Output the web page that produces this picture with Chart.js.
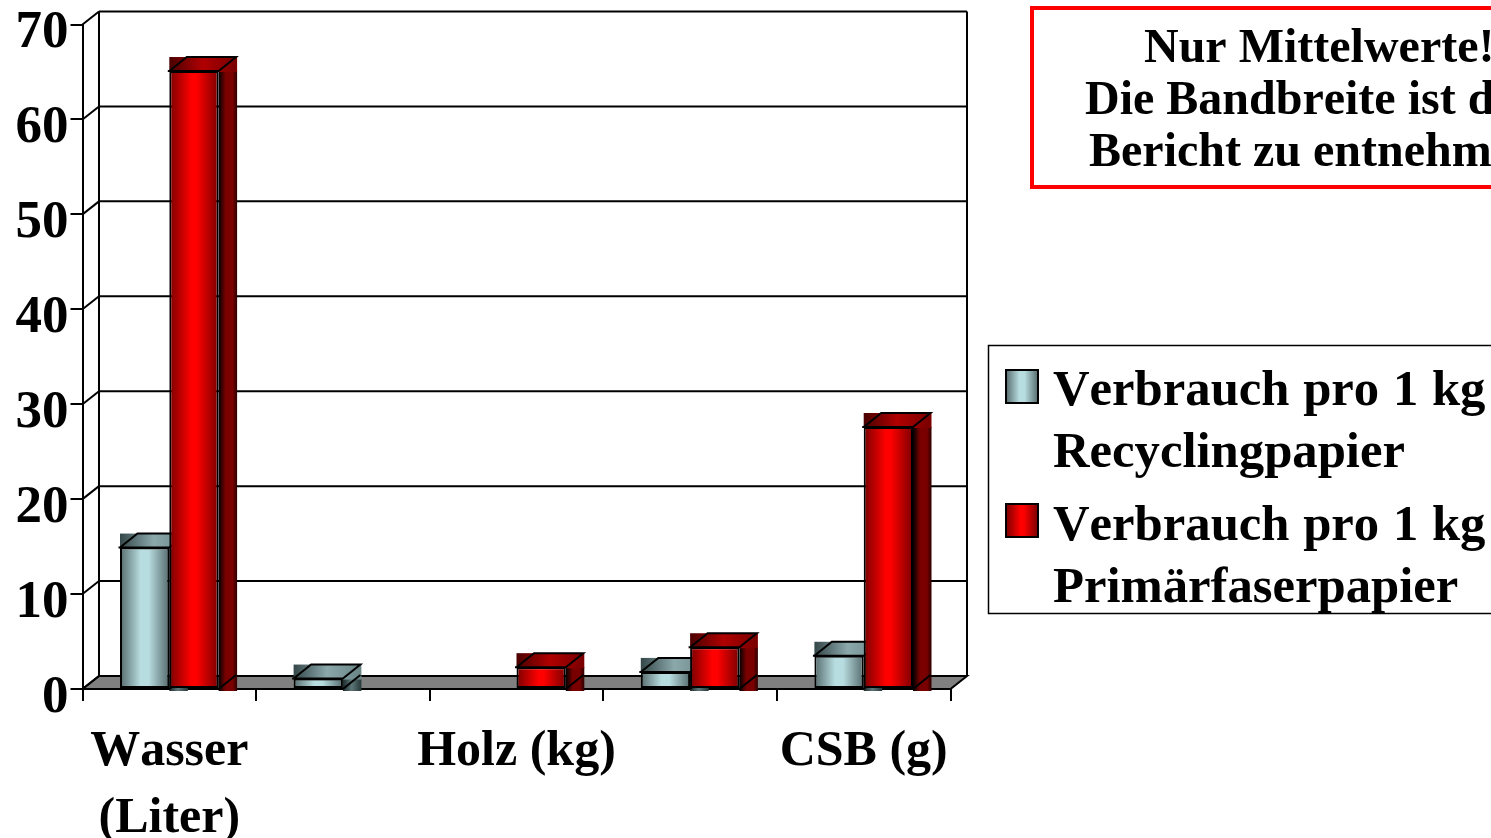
<!DOCTYPE html>
<html>
<head>
<meta charset="utf-8">
<title>Verbrauch pro 1 kg Papier</title>
<script src="https://cdn.jsdelivr.net/npm/chart.js@4/dist/chart.umd.min.js"></script>
<style>
html, body { margin: 0; padding: 0; background: #fff; overflow: hidden; }
canvas { display: block; }
</style>
</head>
<body>
<canvas id="chart" width="1491" height="838"></canvas>
<script>
// Values
var categories = [['Wasser', '(Liter)'], '', 'Holz (kg)', '', 'CSB (g)'];
var recycling = [14.9, 1.1, null, 1.8, 3.5];
var primaer = [65.1, null, 2.3, 4.4, 27.6];
var seriesNames = [
	['Verbrauch pro 1 kg', 'Recyclingpapier'],
	['Verbrauch pro 1 kg', 'Primärfaserpapier']
];
var noteLines = ['Nur Mittelwerte!', 'Die Bandbreite ist d', 'Bericht zu entnehm'];
var yTicks = [0, 10, 20, 30, 40, 50, 60, 70];

var serif = '"Liberation Serif", "Times New Roman", serif';
var WALL_DX = 16.5, WALL_DY = 13;
var BAR_DX = 17.5, BAR_DY = 14;
var BAR_FRACTION = 0.568;

// colours per series: front, side and top face stops
var looks = [
	{
		front: [[0, '#566b6d'], [0.42, '#b8dde0'], [0.58, '#b8dde0'], [1, '#566b6d']],
		side: [[0, '#1c2a2b'], [0.5, '#5d7678'], [1, '#2c3d3e']],
		top: [[0, '#344648'], [0.5, '#8ba8ab'], [1, '#6b8587']]
	},
	{
		front: [[0, '#7a0000'], [0.45, '#ff0000'], [0.55, '#ff0000'], [1, '#7a0000']],
		side: [[0, '#000000'], [0.4, '#7a0000'], [0.8, '#7a0000'], [1, '#3a0000']],
		top: [[0, '#4a0000'], [0.5, '#b00000'], [1, '#7a0000']]
	}
];

function hGradient(ctx, x0, x1, stops) {
	var g = ctx.createLinearGradient(x0, 0, x1, 0);
	stops.forEach(function(s) {
		g.addColorStop(s[0], s[1]);
	});
	return g;
}

function barWidth(chart) {
	return chart.scales.x.width / categories.length * BAR_FRACTION / 2;
}

function frontFill(context) {
	var chart = context.chart;
	if (!chart.chartArea) return '#888';
	var w = barWidth(chart);
	var mid = chart.scales.x.getPixelForValue(context.dataIndex);
	var left = context.datasetIndex === 0 ? mid - w : mid;
	return hGradient(chart.ctx, left, left + w, looks[context.datasetIndex].front);
}

function line(ctx, x0, y0, x1, y1) {
	ctx.beginPath();
	ctx.moveTo(x0, y0);
	ctx.lineTo(x1, y1);
	ctx.stroke();
}

// back wall, side wall and floor behind the bars
function drawRoom(chart) {
	var ctx = chart.ctx, xs = chart.scales.x, ys = chart.scales.y;
	var l = xs.left, r = xs.right, base = ys.getPixelForValue(0);
	ctx.save();
	ctx.strokeStyle = '#000';
	ctx.lineWidth = 2;
	ctx.fillStyle = '#808080';
	ctx.beginPath();
	ctx.moveTo(l, base);
	ctx.lineTo(l + WALL_DX, base - WALL_DY);
	ctx.lineTo(r + WALL_DX, base - WALL_DY);
	ctx.lineTo(r, base);
	ctx.closePath();
	ctx.fill();
	ctx.stroke();
	yTicks.forEach(function(v) {
		var y = ys.getPixelForValue(v);
		line(ctx, l, y, l + WALL_DX, y - WALL_DY);
		line(ctx, l + WALL_DX, y - WALL_DY, r + WALL_DX, y - WALL_DY);
	});
	var top = ys.getPixelForValue(70) - WALL_DY;
	line(ctx, l + WALL_DX, top, l + WALL_DX, base - WALL_DY);
	line(ctx, r + WALL_DX, top, r + WALL_DX, base - WALL_DY);
	ctx.restore();
}

// side and top faces of one series
function drawFaces(chart, index) {
	var ctx = chart.ctx, look = looks[index];
	var base = chart.scales.y.getPixelForValue(0);
	chart.getDatasetMeta(index).data.forEach(function(el, i) {
		if (chart.data.datasets[index].data[i] == null) return;
		var w = barWidth(chart);
		var left = el.x - w / 2, right = el.x + w / 2, top = el.y;
		ctx.save();
		ctx.fillStyle = hGradient(ctx, right, right + BAR_DX, look.side);
		ctx.fillRect(right, top, BAR_DX + 1, base + 2 - top);
		ctx.fillStyle = hGradient(ctx, left, right + BAR_DX, look.top);
		ctx.fillRect(left, top - BAR_DY, w + BAR_DX + 1, BAR_DY + 1);
		ctx.strokeStyle = '#000';
		ctx.lineWidth = 2;
		ctx.beginPath();
		ctx.moveTo(left - 1.5, top);
		ctx.lineTo(right, top);
		ctx.lineTo(right + BAR_DX, top - BAR_DY);
		ctx.lineTo(left + BAR_DX, top - BAR_DY);
		ctx.lineTo(left, top);
		ctx.stroke();
		line(ctx, right, base, right + BAR_DX, base - BAR_DY);
		ctx.restore();
	});
}

function drawNote(chart) {
	var ctx = chart.ctx;
	ctx.save();
	ctx.strokeStyle = '#ff0000';
	ctx.lineWidth = 4;
	ctx.strokeRect(1032, 8, 480, 179);
	ctx.fillStyle = '#000';
	ctx.font = 'bold 48px ' + serif;
	ctx.textBaseline = 'alphabetic';
	ctx.fillText(noteLines[0], 1144, 62);
	ctx.fillText(noteLines[1], 1085, 114);
	ctx.fillText(noteLines[2], 1089, 166);
	ctx.restore();
}

function drawLegend(chart) {
	var ctx = chart.ctx;
	var swatchY = [370, 504];
	var textY = [[405, 467], [540, 602]];
	ctx.save();
	ctx.strokeStyle = '#000';
	ctx.lineWidth = 1.5;
	ctx.strokeRect(988.5, 345.5, 540, 268);
	ctx.font = 'bold 50.7px ' + serif;
	ctx.wordSpacing = '1px';
	ctx.textBaseline = 'alphabetic';
	seriesNames.forEach(function(name, i) {
		ctx.fillStyle = hGradient(ctx, 1006, 1038, looks[i].front);
		ctx.fillRect(1006, swatchY[i], 32, 33);
		ctx.lineWidth = 2;
		ctx.strokeRect(1006, swatchY[i], 32, 33);
		ctx.fillStyle = '#000';
		ctx.fillText(name[0], 1053, textY[i][0]);
		ctx.fillText(name[1], 1053, textY[i][1]);
	});
	ctx.restore();
}

var room3d = {
	id: 'room3d',
	beforeDraw: function(chart) {
		// the original text has no kerning
		chart.ctx.fontKerning = 'none';
	},
	beforeDatasetsDraw: function(chart) {
		drawRoom(chart);
		drawFaces(chart, 0);
		drawFaces(chart, 1);
	},
	afterDraw: function(chart) {
		drawNote(chart);
		drawLegend(chart);
	}
};

var ctx = document.getElementById('chart').getContext('2d');
var chart = new Chart(ctx, {
	type: 'bar',
	data: {
		labels: categories,
		datasets: [{
			label: seriesNames[0].join(' '),
			data: recycling,
			backgroundColor: frontFill,
			borderColor: '#000',
			borderWidth: 2,
			borderSkipped: false
		}, {
			label: seriesNames[1].join(' '),
			data: primaer,
			backgroundColor: frontFill,
			borderColor: '#000',
			borderWidth: 2,
			borderSkipped: false
		}]
	},
	options: {
		responsive: false,
		animation: false,
		layout: { padding: { left: 0, top: 24.5, right: 540.5, bottom: 0 } },
		categoryPercentage: BAR_FRACTION,
		barPercentage: 1,
		plugins: {
			legend: { display: false },
			title: { display: false },
			tooltip: { enabled: false }
		},
		scales: {
			x: {
				afterFit: function(s) {
					s.height = 149;
					s.paddingLeft = 0;
					s.paddingRight = 0;
				},
				border: { color: '#000', width: 2 },
				grid: { drawOnChartArea: false, color: '#000', tickColor: '#000', tickLength: 12, lineWidth: 2 },
				ticks: {
					autoSkip: false,
					maxRotation: 0,
					padding: 18,
					color: '#000',
					font: { family: serif, size: 50, weight: 'bold', lineHeight: 1.34 }
				}
			},
			y: {
				min: 0,
				max: 70,
				afterFit: function(s) {
					s.width = 82.5;
					s.paddingTop = 0;
					s.paddingBottom = 0;
				},
				afterBuildTicks: function(s) {
					s.ticks = yTicks.map(function(v) {
						return { value: v };
					});
				},
				border: { color: '#000', width: 2 },
				grid: { drawOnChartArea: false, color: '#000', tickColor: '#000', tickLength: 12, lineWidth: 2 },
				ticks: {
					padding: 2,
					labelOffset: 9,
					color: '#000',
					font: { family: serif, size: 53, weight: 'bold' }
				}
			}
		}
	},
	plugins: [room3d]
});
</script>
</body>
</html>
